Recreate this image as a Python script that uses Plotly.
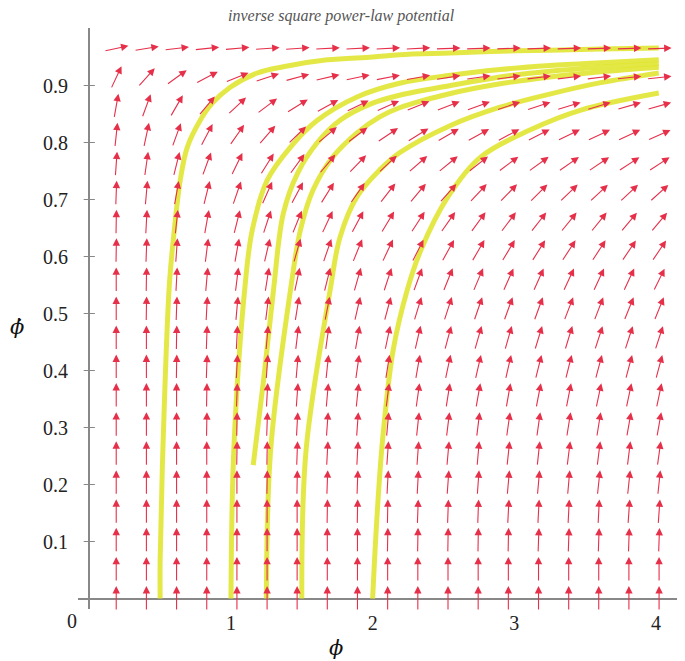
import math
import plotly.graph_objects as go

# ---------------- data ----------------
# grid of the direction field
phi_cols = [0.19, 0.403, 0.616, 0.829, 1.042, 1.255, 1.467, 1.68, 1.893, 2.106,
            2.319, 2.532, 2.745, 2.958, 3.171, 3.384, 3.596, 3.809, 4.022]
dphi_rows = [0.0, 0.051, 0.102, 0.152, 0.203, 0.254, 0.305, 0.356, 0.406, 0.457,
             0.508, 0.559, 0.610, 0.660, 0.711, 0.762, 0.813, 0.864, 0.914, 0.965]

# on-screen direction of each arrow (degrees from the +phi direction), rows bottom -> top
arrow_angle = [
    [90] * 19,
    [90] * 19,
    [90, 90, 90, 90, 90, 90, 90, 90, 90, 89, 89, 89, 89, 89, 88, 88, 88, 88, 88],
    [90, 90, 90, 90, 90, 90, 90, 89, 89, 89, 88, 88, 88, 87, 87, 87, 87, 86, 86],
    [90, 90, 90, 90, 90, 89, 89, 88, 88, 87, 87, 86, 86, 85, 85, 85, 84, 84, 84],
    [90, 90, 90, 90, 89, 89, 88, 87, 87, 86, 86, 85, 85, 84, 84, 83, 83, 83, 82],
    [90, 90, 90, 89, 89, 88, 87, 86, 86, 85, 84, 83, 83, 82, 82, 81, 81, 80, 80],
    [90, 90, 90, 89, 88, 87, 86, 85, 84, 83, 82, 81, 80, 80, 79, 79, 78, 78, 78],
    [90, 90, 89, 88, 87, 86, 85, 84, 82, 81, 80, 78, 77, 77, 76, 76, 75, 75, 75],
    [90, 90, 89, 88, 87, 85, 83, 82, 80, 78, 77, 75, 74, 74, 73, 73, 72, 72, 72],
    [90, 89, 88, 87, 85, 83, 81, 79, 77, 75, 73, 72, 71, 70, 70, 69, 69, 68, 68],
    [90, 89, 87, 85, 83, 81, 78, 76, 74, 72, 70, 68, 67, 66, 66, 65, 65, 65, 64],
    [89, 88, 86, 83, 80, 77, 74, 71, 68, 65, 63, 61, 60, 59, 58, 57, 57, 56, 56],
    [89, 87, 84, 80, 76, 72, 68, 65, 62, 59, 57, 55, 54, 53, 52, 51, 51, 50, 50],
    [88, 85, 80, 76, 71, 66, 62, 58, 55, 52, 50, 48, 47, 46, 45, 44, 43, 43, 42],
    [86, 82, 76, 70, 64, 58, 54, 50, 46, 43, 41, 39, 38, 37, 36, 35, 34, 33, 33],
    [84, 78, 70, 62, 55, 49, 44, 40, 37, 34, 32, 30, 29, 28, 27, 26, 25, 25, 24],
    [80, 70, 60, 50, 43, 37, 32, 29, 26, 24, 22, 21, 20, 19, 18, 17, 17, 16, 16],
    [65, 48, 36, 28, 22, 18, 15, 13, 12, 11, 10, 9, 8, 8, 7, 7, 7, 6, 6],
    [12, 9, 7, 6, 5, 4, 4, 3, 3, 3, 3, 2, 2, 2, 2, 2, 2, 2, 2],
]

# trajectories (phi, phi-dot)
traj_a_phi = [0.5, 0.50, 0.52, 0.565, 0.60, 0.642, 0.692, 0.783, 0.868, 0.995, 1.186,
              1.369, 1.68, 2.0, 2.19, 2.55, 2.90, 3.25, 3.61, 4.02]
traj_a_dphi = [0.0, 0.068, 0.266, 0.55, 0.646, 0.734, 0.792, 0.839, 0.869, 0.897, 0.922,
               0.933, 0.945, 0.950, 0.954, 0.957, 0.960, 0.962, 0.964, 0.966]

traj_b_phi = [1.0, 1.02, 1.10, 1.15, 1.256, 1.42, 1.61, 1.89, 2.19, 2.55, 2.90, 3.25, 3.61, 4.02]
traj_b_dphi = [0.0, 0.26, 0.55, 0.646, 0.734, 0.792, 0.839, 0.88, 0.904, 0.918, 0.928,
               0.935, 0.940, 0.945]

traj_c_phi = [1.157, 1.23, 1.30, 1.37, 1.47, 1.61, 1.77, 2.0, 2.19, 2.55, 2.90, 3.25, 3.61, 4.02]
traj_c_dphi = [0.234, 0.383, 0.541, 0.676, 0.746, 0.80, 0.839, 0.869, 0.883, 0.90, 0.915,
               0.925, 0.932, 0.938]

traj_d_phi = [1.25, 1.28, 1.42, 1.49, 1.58, 1.72, 1.89, 2.05, 2.19, 2.55, 2.90, 3.25, 3.61, 4.02]
traj_d_dphi = [0.0, 0.26, 0.541, 0.646, 0.717, 0.775, 0.817, 0.845, 0.861, 0.886, 0.903,
               0.915, 0.924, 0.932]

traj_e_phi = [1.50, 1.53, 1.70, 1.77, 1.89, 2.05, 2.19, 2.55, 2.90, 3.25, 3.61, 4.02]
traj_e_dphi = [0.0, 0.26, 0.541, 0.634, 0.705, 0.752, 0.782, 0.830, 0.862, 0.885, 0.905, 0.922]

traj_f_phi = [2.0, 2.03, 2.07, 2.145, 2.244, 2.34, 2.53, 2.76, 3.11, 3.47, 4.02]
traj_f_dphi = [0.0, 0.14, 0.278, 0.436, 0.541, 0.611, 0.704, 0.774, 0.822, 0.857, 0.887]

x_tick_vals = [1, 2, 3, 4]
y_tick_vals = [0.1, 0.2, 0.3, 0.4, 0.5, 0.6, 0.7, 0.8, 0.9]
y_tick_text = ["0.1", "0.2", "0.3", "0.4", "0.5", "0.6", "0.7", "0.8", "0.9"]

# ---------------- figure ----------------
ARROW_LEN = 25
ARROW_COLOR = "#e6304a"
TRAJ_COLOR = "rgba(224,229,45,0.88)"
SERIF = "Liberation Serif, Times New Roman, serif"

fig = go.Figure()

trajs = [(traj_a_phi, traj_a_dphi), (traj_b_phi, traj_b_dphi), (traj_c_phi, traj_c_dphi),
         (traj_d_phi, traj_d_dphi), (traj_e_phi, traj_e_dphi), (traj_f_phi, traj_f_dphi)]
for px, py in trajs:
    fig.add_trace(go.Scatter(x=px, y=py, mode="lines", line=dict(color=TRAJ_COLOR, width=5, shape="spline"),
                             hoverinfo="skip", showlegend=False))

# small ticks on the vertical axis
fig.add_trace(go.Scatter(x=[0] * len(y_tick_vals), y=y_tick_vals, mode="markers",
                         marker=dict(symbol="line-ew", size=8, line=dict(color="#888", width=1)),
                         hoverinfo="skip", showlegend=False))

annotations = []
for i, yv in enumerate(dphi_rows):
    for j, xv in enumerate(phi_cols):
        th = math.radians(arrow_angle[i][j])
        c, s = math.cos(th), math.sin(th)
        annotations.append(dict(
            x=xv, y=yv, xref="x", yref="y", text="", showarrow=True,
            ax=-ARROW_LEN * c, ay=ARROW_LEN * s, axref="pixel", ayref="pixel",
            xshift=ARROW_LEN / 2 * c, yshift=ARROW_LEN / 2 * s,
            arrowhead=2, arrowsize=1.35, arrowwidth=1.1, arrowcolor=ARROW_COLOR,
        ))

annotations += [
    dict(x=0, y=0, xref="x", yref="y", text="0", showarrow=False, xanchor="right", yanchor="top",
         xshift=-10, yshift=-9, font=dict(family=SERIF, size=20, color="#222")),
    dict(x=0.425, y=-0.0904, xref="paper", yref="paper", text="<i>\u03d5</i>", showarrow=False,
         font=dict(family="DejaVu Serif", size=21, color="#111")),
    dict(x=-70 / 607, y=0.485, xref="paper", yref="paper", text="<i>\u03d5\u0307</i>", showarrow=False,
         xanchor="left", font=dict(family="DejaVu Serif", size=21, color="#111")),
]

fig.update_layout(
    width=677, height=653,
    margin=dict(l=70, r=0, t=20, b=52),
    paper_bgcolor="white", plot_bgcolor="white",
    title=dict(text="<i>inverse square power-law potential</i>", x=0.492, xref="container",
               y=0.998, yref="container", xanchor="center", yanchor="top",
               font=dict(family=SERIF, size=16, color="#555")),
    annotations=annotations,
    xaxis=dict(range=[-0.0798, 4.205], showgrid=False, zeroline=True, zerolinecolor="#888",
               zerolinewidth=2, showline=False, tickvals=x_tick_vals,
               ticks="", tickfont=dict(family=SERIF, size=20, color="#222")),
    yaxis=dict(range=[-0.0184, 1.0009], showgrid=False, zeroline=True, zerolinecolor="#888",
               zerolinewidth=2, showline=False, tickvals=y_tick_vals, ticktext=y_tick_text,
               ticks="outside", ticklen=5, tickcolor="rgba(0,0,0,0)",
               tickfont=dict(family=SERIF, size=20, color="#222")),
)

fig.write_html("out.html")
